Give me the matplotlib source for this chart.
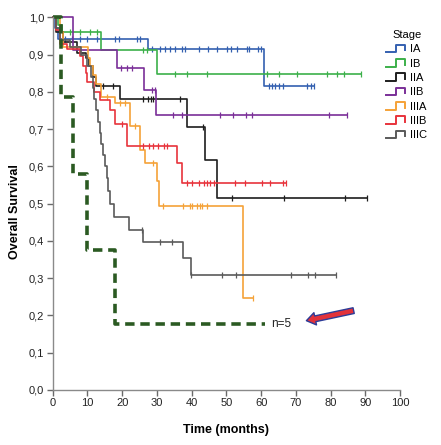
import numpy as np
import matplotlib
matplotlib.use("Agg")
import matplotlib.pyplot as plt
from matplotlib.lines import Line2D
from matplotlib.legend_handler import HandlerBase

plt.rcParams["font.family"] = ["Liberation Sans", "DejaVu Sans"]

# ----------------------------
# Data
# ----------------------------
stages = ["IA", "IB", "IIA", "IIB", "IIIA", "IIIB", "IIIC"]
colors = ["#3460b0", "#3cb04a", "#1e1e1e", "#7a2f98", "#f5a238", "#e8333c", "#5a5a5a"]

# event times (months) and survival after each step, plus censor times
ia_t = [0, 0.8, 1.6, 27.5, 60.7]
ia_s = [1.0, 0.97, 0.943, 0.915, 0.816]
ia_c = [3.5, 5.5, 7.9, 9.9, 12.7, 18, 19, 24.3, 25.2, 28.6, 30.9, 32.4, 33.8, 35.3,
        37.3, 38.2, 42, 44.8, 47.4, 50.2, 51.2, 53.1, 56, 56.6, 59.2, 59.8,
        62.1, 63.2, 64.1, 65, 66.2, 73.3, 74.2, 75.1]

ib_t = [0, 1.5, 2.6, 13.9, 30]
ib_s = [1.0, 0.98, 0.961, 0.913, 0.849]
ib_c = [5, 7.9, 10.7, 12.7, 26, 27, 35.3, 38.7, 44.5, 61.7, 65, 70.3, 79, 81.8, 83.7, 88.6]

iia_t = [0, 1, 3, 7, 9.5, 10.5, 11.5, 12.5, 19.4, 38.6, 43.9, 47.4]
iia_s = [1.0, 0.96, 0.935, 0.905, 0.89, 0.87, 0.84, 0.815, 0.782, 0.705, 0.617, 0.514]
iia_c = [14.5, 17.4, 26, 27.5, 28.4, 29, 36.6, 43.2, 51.6, 66.5, 84.2, 90.5]

iib_t = [0, 5.9, 18.4, 26.4, 29.8]
iib_s = [1.0, 0.913, 0.865, 0.804, 0.739]
iib_c = [19.6, 21.5, 22.8, 28.5, 29.3, 34.7, 37.2, 48.2, 52, 55.5, 57.3, 79.4, 84.7]

iiia_t = [0, 2, 3, 10.3, 10.8, 11.5, 12.5, 13.9, 18, 22.3, 25, 26.5, 28.1, 30, 30.7, 54.7]
iiia_s = [1.0, 0.96, 0.92, 0.89, 0.87, 0.845, 0.82, 0.786, 0.769, 0.708, 0.645, 0.61,
          0.608, 0.56, 0.493, 0.246]
iiia_c = [15.5, 19.5, 20.8, 23.7, 29, 31.8, 37.6, 39.6, 40.2, 41.5, 42.4, 43, 44.4, 57.5]

iiib_t = [0, 1, 2, 4, 7.9, 8.6, 9.6, 10, 12, 13.5, 16.4, 17.9, 21.3, 35.7, 37.2]
iiib_s = [1.0, 0.965, 0.929, 0.916, 0.895, 0.87, 0.85, 0.826, 0.80, 0.777, 0.75, 0.715,
          0.655, 0.608, 0.556]
iiib_c = [20, 26.1, 27.6, 29, 30.4, 31.9, 32.9, 38.7, 40.1, 42, 43.5, 44.4, 45.3, 46.3,
          52.5, 55.4, 60.2, 62.6, 66.3, 67]

iiic_t = [0, 1, 2, 5, 8, 10, 11, 11.5, 12, 12.5, 13, 13.5, 14, 14.5, 15, 15.5, 16,
          16.5, 17.5, 22.1, 26.1, 37.6, 39.8]
iiic_s = [1.0, 0.97, 0.94, 0.92, 0.90, 0.87, 0.84, 0.81, 0.78, 0.75, 0.72, 0.69, 0.66,
          0.63, 0.60, 0.57, 0.535, 0.50, 0.465, 0.429, 0.398, 0.353, 0.308]
iiic_c = [25.6, 30.9, 34.3, 39.8, 48.7, 52.7, 68.6, 73.5, 75.4, 81.5]

# hand-drawn small group (n=5)
small_t = [0, 2.4, 5.8, 10, 17.8]
small_s = [1.0, 0.785, 0.58, 0.375, 0.177]
small_end = 61.2

y_ticks = [0.0, 0.1, 0.2, 0.3, 0.4, 0.5, 0.6, 0.7, 0.8, 0.9, 1.0]
y_tick_labels = ["0,0", "0,1", "0,2", "0,3", "0,4", "0,5", "0,6", "0,7", "0,8", "0,9", "1,0"]
x_ticks = [0, 10, 20, 30, 40, 50, 60, 70, 80, 90, 100]

curves = [
    (ia_t, ia_s, ia_c),
    (ib_t, ib_s, ib_c),
    (iia_t, iia_s, iia_c),
    (iib_t, iib_s, iib_c),
    (iiia_t, iiia_s, iiia_c),
    (iiib_t, iiib_s, iiib_c),
    (iiic_t, iiic_s, iiic_c),
]


# ----------------------------
# Helpers
# ----------------------------

def surv_at(times, surv, t):
    idx = np.searchsorted(times, t, side="right") - 1
    return np.asarray(surv)[idx]


class StepHandler(HandlerBase):
    """Little step-shaped legend key, like the SPSS output."""

    def create_artists(self, legend, orig_handle, xdescent, ydescent, width, height,
                       fontsize, trans):
        x0, y0 = -xdescent, -ydescent
        xs = [x0, x0 + 0.45 * width, x0 + 0.45 * width, x0 + 0.92 * width, x0 + 0.92 * width]
        ys = [y0 + 0.05 * height, y0 + 0.05 * height, y0 + 0.95 * height,
              y0 + 0.95 * height, y0 + 0.3 * height]
        line = Line2D(xs, ys, color=orig_handle.get_color(), lw=1.4, transform=trans)
        return [line]


# ----------------------------
# Plot
# ----------------------------

fig = plt.figure(figsize=(4.41, 4.45), dpi=100)
ax = fig.add_axes([0.1195, 0.1236, 0.788, 0.8375])

handles = []
for (t, s, c), col, name in zip(curves, colors, stages):
    end = max(c)
    tt = list(t) + [end]
    ss = list(s) + [s[-1]]
    h, = ax.step(tt, ss, where="post", color=col, lw=1.2, clip_on=False, label=name)
    cy = [surv_at(t, s, ci) for ci in c]
    ax.plot(c, cy, ls="none", marker="|", ms=5, mew=0.9, color=col, clip_on=False)
    handles.append(h)

ax.step(list(small_t) + [small_end], list(small_s) + [small_s[-1]], where="post",
        color="#2b5a22", lw=2.6, ls=(0, (2.6, 1.6)), clip_on=False)
ax.text(62.8, small_s[-1], "n=5", fontsize=8.5, va="center", ha="left", color="#222222")

ax.annotate("", xy=(73, 0.186), xytext=(86.6, 0.213),
            arrowprops=dict(arrowstyle="simple,head_length=0.65,head_width=0.9,tail_width=0.42",
                            fc="#e2323a", ec="#2c3c98", lw=1.0, shrinkA=0, shrinkB=0))

ax.set_xlim(0, 100)
ax.set_ylim(0, 1.0)
ax.set_xticks(x_ticks)
ax.set_yticks(y_ticks)
ax.set_yticklabels(y_tick_labels)
for sp in ["top", "right"]:
    ax.spines[sp].set_visible(False)
for sp in ["left", "bottom"]:
    ax.spines[sp].set_color("#8a8a8a")
    ax.spines[sp].set_linewidth(1.0)
ax.tick_params(direction="out", length=4, width=1.0, color="#6a6a6a",
               labelsize=8, labelcolor="#222222", pad=2)

ax.set_xlabel("Time (months)", fontsize=9, fontweight="bold")
ax.set_ylabel("Overall Survival", fontsize=9, fontweight="bold")
ax.xaxis.set_label_coords(0.5, -0.09)
ax.yaxis.set_label_coords(-0.092, 0.478)

leg = fig.legend(handles=handles, labels=stages, handler_map={Line2D: StepHandler()},
                 loc="upper left", bbox_to_anchor=(386 / 441, 1 - 30 / 445),
                 frameon=False, fontsize=8, title="Stage", title_fontsize=8,
                 handlelength=1.9, handleheight=0.8, handletextpad=0.3,
                 labelspacing=0.38, borderpad=0, borderaxespad=0)

fig.savefig("out.png", dpi=100)
